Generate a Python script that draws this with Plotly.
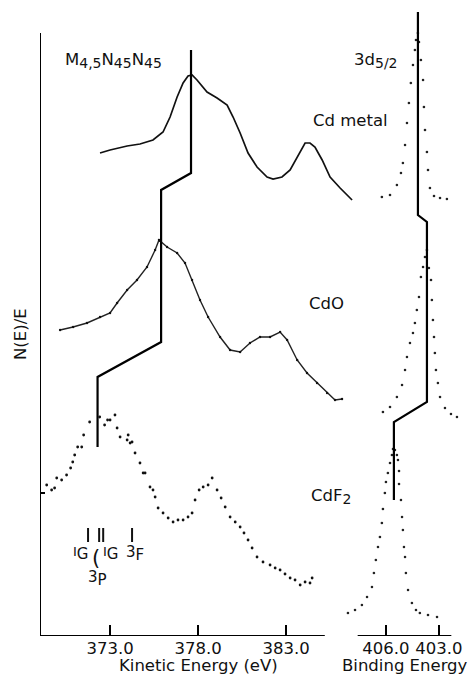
import plotly.graph_objects as go

# ---------------- data (intensities in arbitrary, offset units) ----------------
# Auger M4,5N45N45 spectra vs kinetic energy (eV)
ke_cd = [372.43, 373.00, 373.97, 374.70, 375.44, 376.01, 376.41, 376.81, 377.15, 377.43, 377.66,
         377.94, 378.51, 379.08, 379.65, 379.99, 380.39, 380.84, 381.35, 381.92, 382.26, 382.77,
         383.23, 383.68, 384.08, 384.36, 384.64, 385.05, 385.50, 386.07, 386.64, 386.75]
int_cd = [483, 486, 490, 492, 496, 504, 519, 539, 553, 560, 561,
          556, 544, 538, 531, 519, 503, 483, 469, 459, 457, 459,
          466, 481, 493, 493, 489, 476, 459, 448, 438, 436]

ke_cdo = [370.16, 370.90, 371.69, 372.43, 373.00, 373.40, 373.97, 374.53, 375.10, 375.56, 375.78,
          376.24, 376.81, 377.26, 377.66, 378.11, 378.57, 379.25, 379.82, 380.39, 380.95, 381.52,
          382.09, 382.66, 383.06, 383.63, 384.19, 384.76, 385.33, 385.78, 386.18]
int_cdo = [306, 309, 313, 319, 323, 333, 346, 356, 369, 386, 396,
           389, 383, 373, 356, 336, 319, 299, 286, 284, 293, 299,
           299, 304, 296, 276, 263, 253, 243, 236, 237]

ke_cdf2 = [369.40, 369.68, 369.85, 369.97, 370.25, 370.53, 370.76, 370.88, 370.99, 371.16, 371.39,
           371.50, 371.84, 372.41, 372.69, 372.86, 373.00, 373.28, 373.40, 373.57, 373.97, 374.03,
           374.14, 374.25, 374.42, 374.70, 374.88, 374.99, 375.27, 375.44, 375.56, 375.73, 376.01,
           376.30, 376.58, 376.86, 377.15, 377.43, 377.66, 377.83, 378.06, 378.29, 378.57, 378.80,
           379.08, 379.31, 379.54, 379.82, 380.11, 380.39, 380.61, 380.84, 381.07, 381.35, 381.69,
           382.09, 382.38, 382.66, 382.94, 383.23, 383.51, 383.80, 384.08, 384.36, 384.48]
int_cdf2 = [151, 146, 148, 158, 156, 161, 168, 174, 181, 189, 189,
            201, 214, 219, 211, 216, 216, 221, 208, 199, 196, 201,
            193, 194, 183, 173, 163, 163, 149, 146, 139, 128, 123,
            118, 114, 116, 116, 119, 123, 136, 146, 149, 151, 158,
            146, 138, 129, 119, 114, 109, 103, 96, 88, 79, 74,
            71, 68, 66, 62, 58, 56, 51, 54, 53, 58]

# peak-position guide (kinetic energy)
ke_guide = [377.60, 377.60, 375.90, 375.90, 372.29, 372.29]
int_guide = [586, 463, 446, 294, 259, 189]

# multiplet term positions (kinetic energy)
term_ke = [371.75, 372.38, 372.61, 374.25]
term_level = 101

# Cd 3d5/2 photoelectron peaks vs binding energy (eV)
be_cd = [406.23, 405.77, 405.38, 405.15, 405.04, 404.92, 404.81, 404.70, 404.59, 404.47, 404.36,
         404.30, 404.19, 404.13, 404.02, 403.90, 403.85, 403.79, 403.68, 403.62, 403.51, 403.28,
         402.94, 402.55]
xps_cd = [439, 441, 451, 463, 473, 491, 513, 533, 553, 571, 586,
          596, 603, 594, 576, 556, 529, 506, 484, 466, 448, 440,
          438, 437]

be_cdo = [406.17, 405.77, 405.38, 405.09, 404.92, 404.81, 404.64, 404.47, 404.36, 404.25, 404.13,
          404.02, 403.90, 403.79, 403.68, 403.57, 403.45, 403.40, 403.34, 403.28, 403.23, 403.17,
          403.06, 402.94, 402.66, 402.32, 401.98]
xps_cdo = [224, 229, 239, 251, 266, 279, 293, 303, 313, 326, 339,
           359, 369, 379, 386, 368, 356, 336, 316, 299, 283, 266,
           253, 239, 228, 222, 219]

be_cdf2 = [408.15, 407.75, 407.36, 407.07, 406.79, 406.68, 406.57, 406.45, 406.34, 406.23, 406.17,
           406.06, 406.00, 405.89, 405.77, 405.66, 405.60, 405.49, 405.38, 405.32, 405.26, 405.26,
           405.15, 405.09, 405.04, 404.98, 404.92, 404.87, 404.75, 404.53, 404.30, 404.08, 403.62,
           403.11]
xps_cdf2 = [23, 26, 31, 39, 49, 63, 76, 89, 99, 113, 127,
            143, 154, 163, 173, 181, 187, 186, 181, 176, 165, 152,
            136, 119, 106, 89, 79, 63, 46, 33, 26, 23, 21,
            19]

# peak-position guide (binding energy)
be_guide = [404.19, 404.19, 403.68, 403.68, 405.55, 405.55]
xps_guide = [624, 421, 414, 234, 214, 136]

ke_ticks = [373.0, 378.0, 383.0]
be_ticks = [406.0, 403.0]
baseline_tick = [143]

# axis frame extents
KE_AXIS = (369.02, 385.2)
BE_AXIS = (407.6, 402.3)
Y_TOP = 603

# ---------------- figure ----------------
W, H = 469, 676
FONT = "DejaVu Sans"
INK = "#111111"
FS = 16.5

fig = go.Figure()

fig.add_trace(go.Scatter(x=ke_cd, y=int_cd, mode="lines", line=dict(color=INK, width=1.7),
                         xaxis="x", yaxis="y"))
fig.add_trace(go.Scatter(x=ke_cdo, y=int_cdo, mode="lines+markers",
                         line=dict(color="#222", width=1.4), marker=dict(size=2.4, color="#111"),
                         xaxis="x", yaxis="y"))
fig.add_trace(go.Scatter(x=ke_cdf2, y=int_cdf2, mode="markers",
                         marker=dict(size=2.8, color="#111"), xaxis="x", yaxis="y"))
fig.add_trace(go.Scatter(x=ke_guide, y=int_guide, mode="lines", line=dict(color="black", width=2.2),
                         xaxis="x", yaxis="y"))
fig.add_trace(go.Scatter(x=term_ke, y=[term_level] * len(term_ke), mode="markers",
                         marker=dict(symbol="line-ns", size=10, line=dict(width=2, color=INK)),
                         xaxis="x", yaxis="y"))

for xs, ys in [(be_cd, xps_cd), (be_cdo, xps_cdo), (be_cdf2, xps_cdf2)]:
    fig.add_trace(go.Scatter(x=xs, y=ys, mode="markers", marker=dict(size=2.6, color="#222"),
                             xaxis="x2", yaxis="y"))
fig.add_trace(go.Scatter(x=be_guide, y=xps_guide, mode="lines", line=dict(color="black", width=2.2),
                         xaxis="x2", yaxis="y"))

axis_common = dict(showgrid=False, zeroline=False, showline=False, ticks="inside", ticklen=11,
                   tickwidth=2, tickcolor="black", tickfont=dict(family=FONT, size=FS, color=INK),
                   anchor="y")
fig.update_layout(
    width=W, height=H, margin=dict(l=0, r=0, t=0, b=0),
    paper_bgcolor="white", plot_bgcolor="rgba(0,0,0,0)", showlegend=False,
    font=dict(family=FONT, size=FS, color=INK),
    xaxis=dict(domain=[40 / W, 360 / W], range=[369.02, 387.20],
               tickvals=ke_ticks, ticktext=[f"{v:.1f}" for v in ke_ticks], **axis_common),
    xaxis2=dict(domain=[340 / W, 1.0], range=[408.60, 401.30],
                tickvals=be_ticks, ticktext=[f"{v:.1f}" for v in be_ticks], **axis_common),
    yaxis=dict(domain=[40 / H, 1.0], range=[0, 636], showgrid=False, zeroline=False, showline=False,
               tickvals=baseline_tick, ticks="inside", ticklen=5, tickwidth=2, tickcolor="black",
               showticklabels=False),
)

# axis frame lines
frame = dict(type="line", line=dict(color="black", width=2))
fig.add_shape(xref="x", yref="y", x0=KE_AXIS[0], x1=KE_AXIS[1], y0=0, y1=0, **frame)
fig.add_shape(xref="x", yref="y", x0=KE_AXIS[0], x1=KE_AXIS[0], y0=0, y1=Y_TOP, **frame)
fig.add_shape(xref="x2", yref="y", x0=BE_AXIS[0], x1=BE_AXIS[1], y0=0, y1=0, **frame)


def px(x, y, text, size=FS, xanchor="left", **kw):
    fig.add_annotation(x=x / W, y=1 - y / H, xref="paper", yref="paper", text=text,
                       showarrow=False, xanchor=xanchor, yanchor="middle",
                       font=dict(family=FONT, size=size, color=INK), **kw)


def sub(t, size=14):
    return f"<sub><span style='font-size:{size}px'>{t}</span></sub>"


px(63, 60, "M" + sub("4,5") + "N" + sub("45") + "N" + sub("45"))
px(352, 61, "3d" + sub("5/2"))
px(311, 120, "Cd metal")
px(307, 303, "CdO")
px(309, 496, "CdF" + sub("2"))
px(20, 334, "N(E)/E", xanchor="center", textangle=-90)
px(198, 665.5, "Kinetic Energy (eV)", xanchor="center")
px(405, 665.5, "Binding Energy", xanchor="center")
px(71, 553, "<span style='font-size:13px'>I</span>" + sub("G", 15), size=15)
px(90, 558, "(", size=21)
px(101, 553, "<span style='font-size:13px'>I</span>" + sub("G", 15), size=15)
px(124, 553, "3" + sub("F", 15), size=15)
px(86, 578, "3" + sub("P", 15), size=15)

fig.write_html("out.html")
